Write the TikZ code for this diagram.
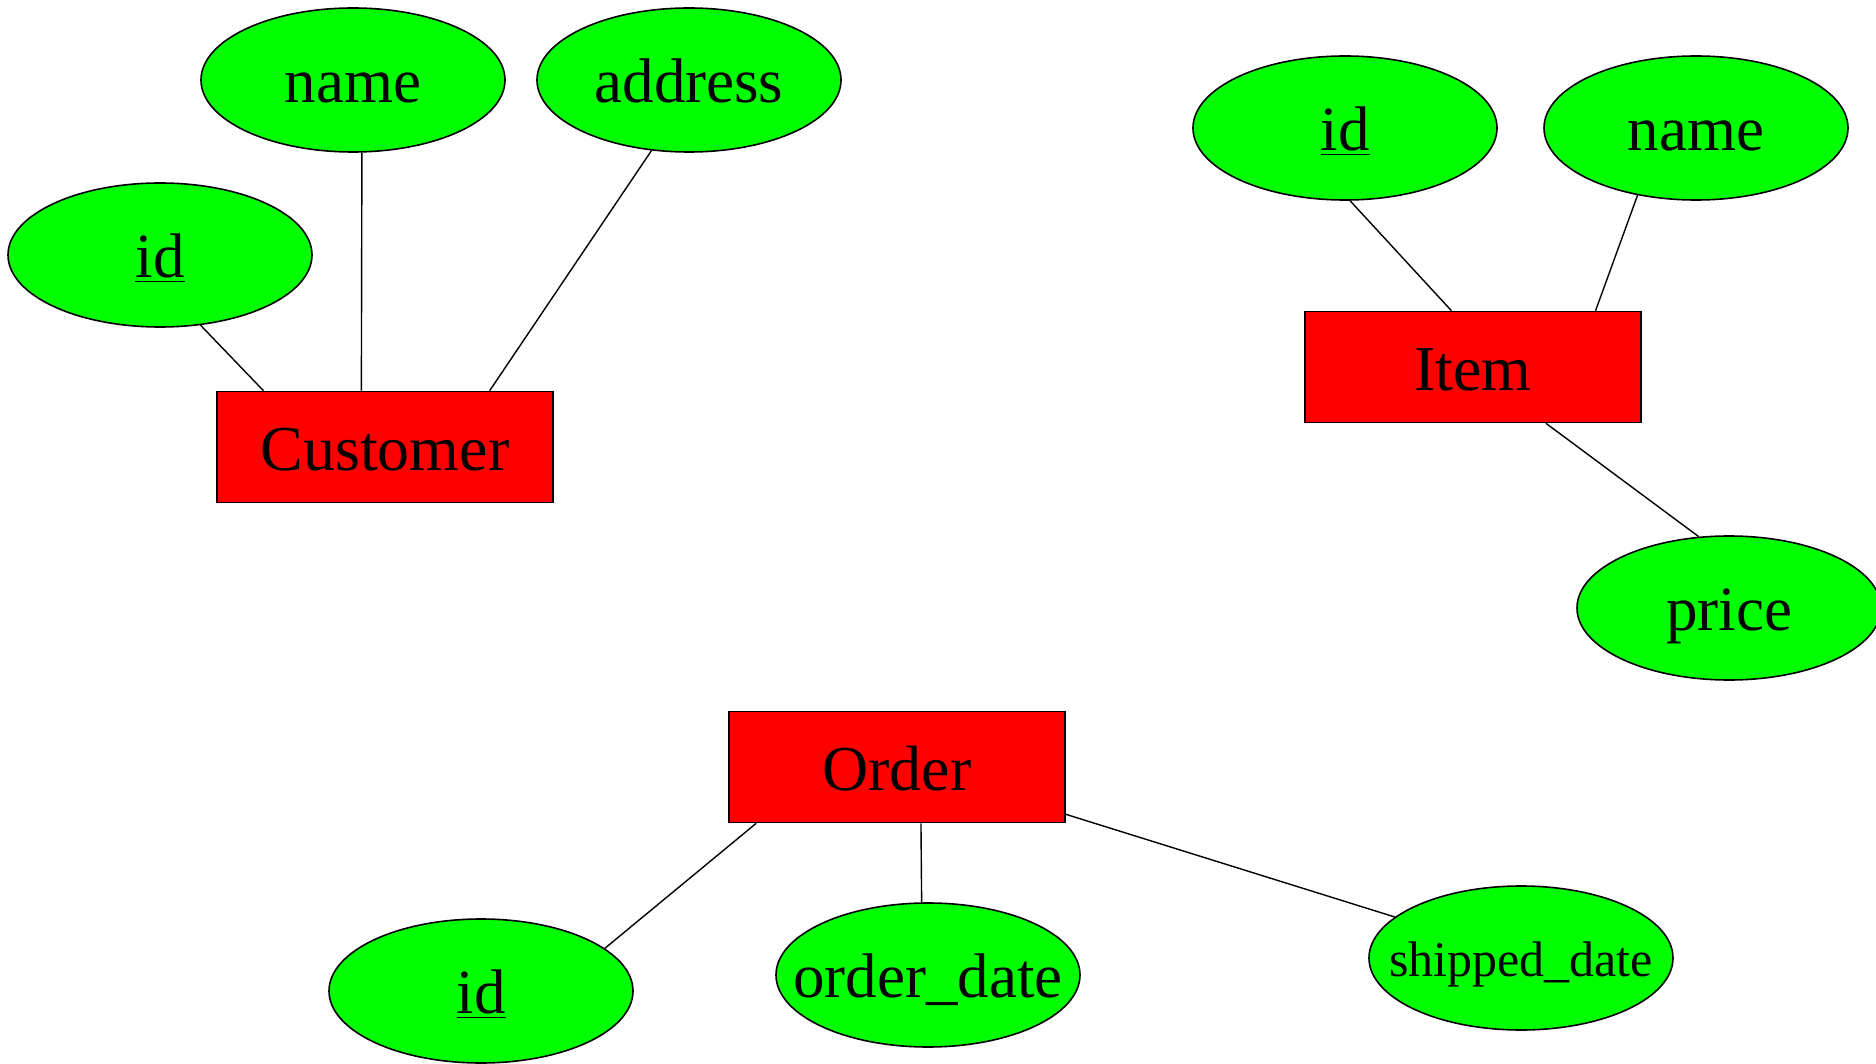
\documentclass[tikz,border=0pt]{standalone}
\usepackage{fontspec}
\setmainfont{Liberation Serif}
\usetikzlibrary{shapes.geometric,calc}

\definecolor{attrgreen}{RGB}{0,255,0}
\definecolor{entred}{RGB}{255,0,0}

% Label with no size of its own: its baseline sits a fixed distance below the node centre
\newcommand{\lbl}[1]{\makebox[0pt]{\raisebox{-0.365em}[0pt][0pt]{#1}}}

\tikzset{
  attr/.style={ellipse, draw=black, line width=0.8pt, fill=attrgreen,
    minimum width=152pt, minimum height=72pt, inner sep=0pt,
    font=\fontsize{31.5}{36}\selectfont},
  smallattr/.style={attr, font=\fontsize{25}{30}\selectfont},
  entity/.style={rectangle, draw=black, line width=0.8pt, fill=entred,
    minimum width=168pt, minimum height=55.5pt, inner sep=0pt,
    font=\fontsize{32}{38}\selectfont},
  link/.style={draw=black, line width=0.7pt}
}

\begin{document}
\begin{tikzpicture}[x=0.5pt, y=-0.5pt]
  \useasboundingbox (0,0) rectangle (1876,1064);

  % Customer entity and its attributes
  \node[entity] (cust) at (385,447) {\lbl{Customer}};
  \node[attr] (custid) at (160,255) {\lbl{\underline{id}}};
  \node[attr] (custname) at (353,80) {\lbl{name}};
  \node[attr] (custaddr) at (689,80) {\lbl{address}};

  % Item entity and its attributes
  \node[entity] (item) at (1473,367) {\lbl{Item}};
  \node[attr] (itemid) at (1345,128) {\lbl{\underline{id}}};
  \node[attr] (itemname) at (1696,128) {\lbl{name}};
  \node[attr] (price) at (1729,608) {\lbl{price}};

  % Order entity and its attributes
  \node[entity] (order) at (897,767) {\lbl{Order}};
  \node[attr] (orderid) at (481,991) {\lbl{\underline{id}}};
  \node[attr] (odate) at (928,975) {\lbl{order\_date}};
  \node[smallattr] (sdate) at (1521,958) {\lbl{shipped\_date}};

  % Attribute links
  \draw[link] (custid.-60.3) -- ($(cust.north west)!0.14!(cust.north east)$);
  \draw[link] (custname.-83.7) -- ($(cust.north west)!0.43!(cust.north east)$);
  \draw[link] (custaddr.-118.8) -- ($(cust.north west)!0.81!(cust.north east)$);

  \draw[link] (itemid.-86) -- ($(item.north west)!0.436!(item.north east)$);
  \draw[link] (itemname.-131.4) -- ($(item.north west)!0.863!(item.north east)$);
  \draw[link] (price.113.3) -- ($(item.south west)!0.716!(item.south east)$);

  \draw[link] (orderid.19.3) -- ($(order.south west)!0.083!(order.south east)$);
  \draw[link] (odate.95.6) -- ($(order.south west)!0.571!(order.south east)$);
  \draw[link] (sdate.162.3) -- ($(order.north east)!0.92!(order.south east)$);
\end{tikzpicture}
\end{document}
